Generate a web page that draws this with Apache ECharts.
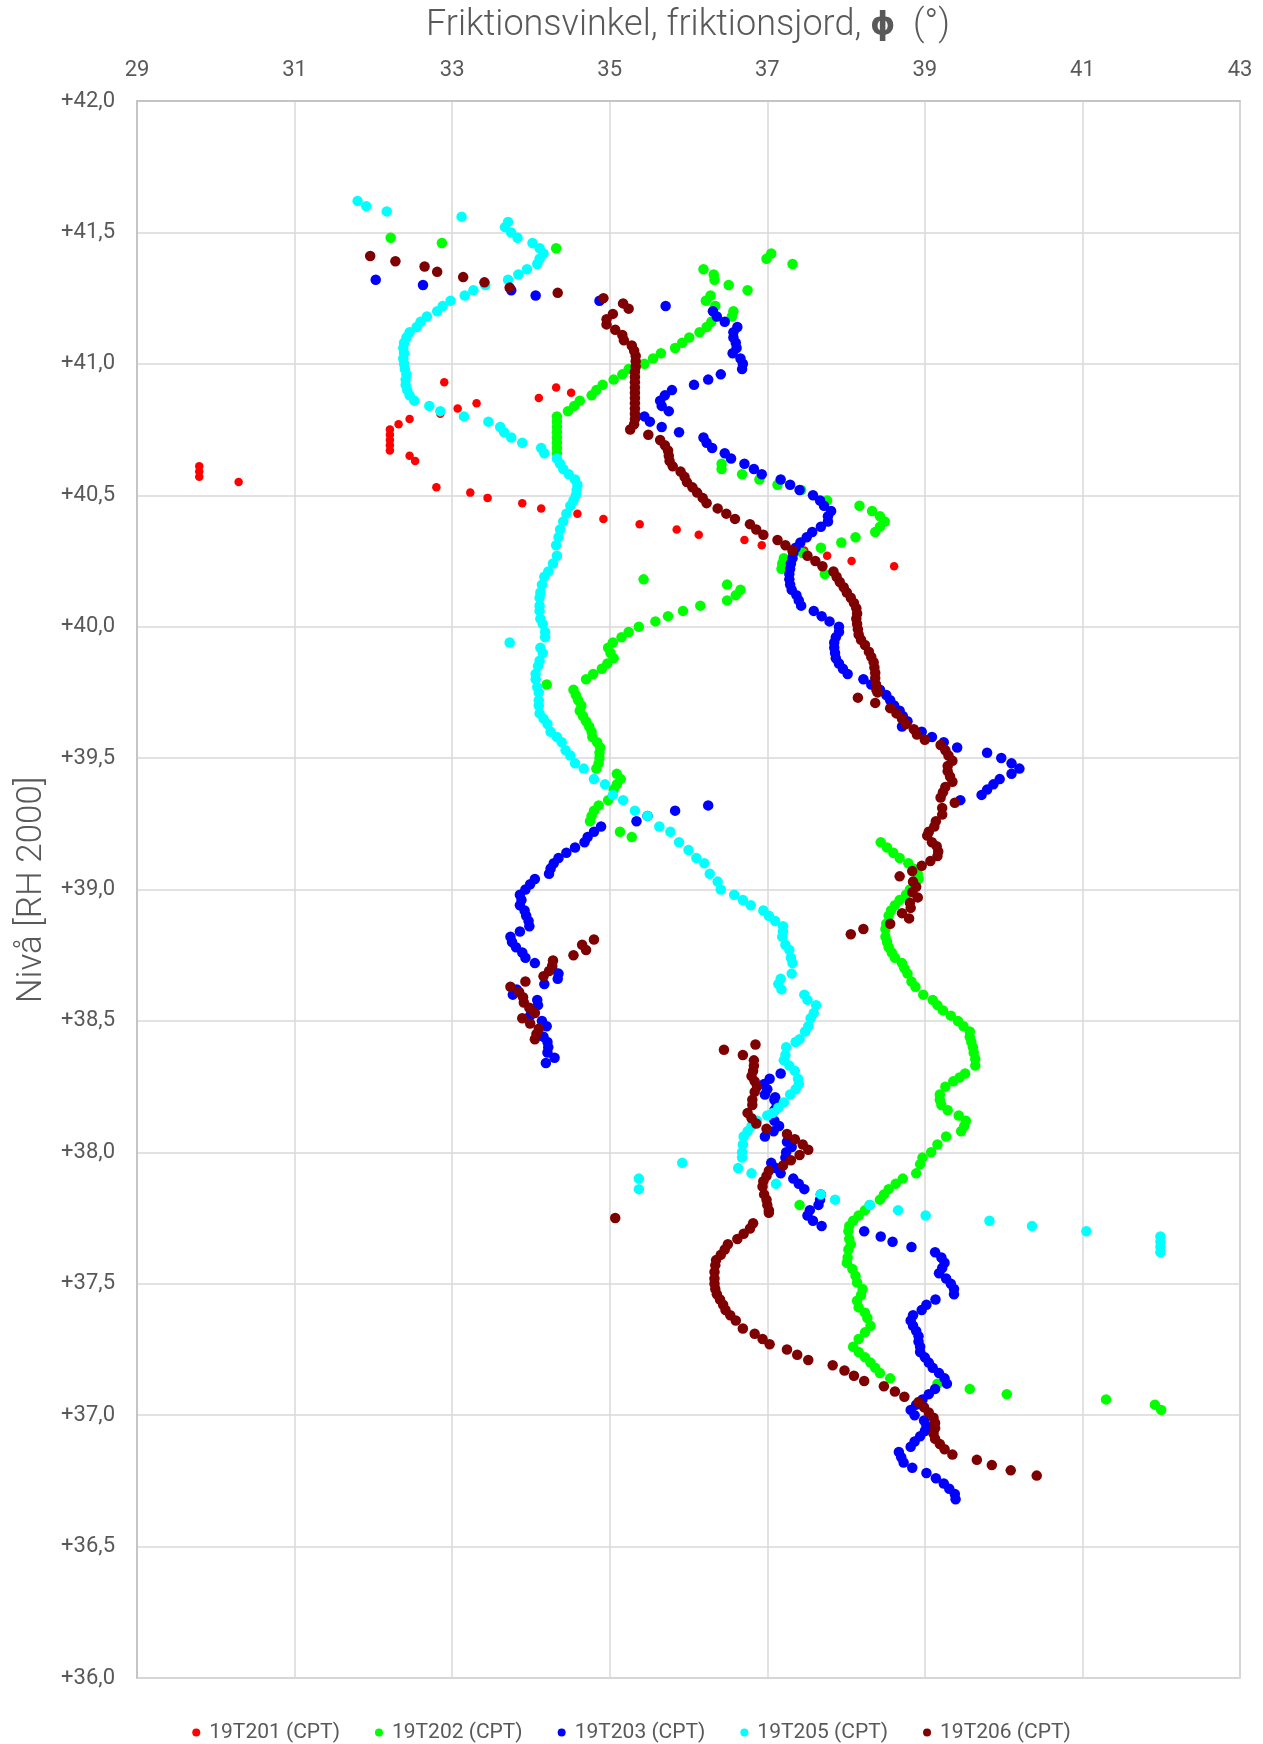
<!DOCTYPE html>
<html>
<head>
<meta charset="utf-8">
<script src="https://cdn.jsdelivr.net/npm/echarts@6/dist/echarts.min.js"></script>
<style>
html,body{margin:0;padding:0;background:#fff;}
#chart{width:1263px;height:1744px;}
</style>
</head>
<body>
<div id="chart"></div>
<script>
// ---- Data: [friction angle (°), level (m, RH 2000)] ----
const xTicks = [29, 31, 33, 35, 37, 39, 41, 43];
const yTicks = [36.0, 36.5, 37.0, 37.5, 38.0, 38.5, 39.0, 39.5, 40.0, 40.5, 41.0, 41.5, 42.0];
const seriesNames = ["19T201 (CPT)", "19T202 (CPT)", "19T203 (CPT)", "19T205 (CPT)", "19T206 (CPT)"];

const t201 = [[29.79,40.61],[29.79,40.59],[29.79,40.57],[30.29,40.55],
[32.21,40.75],[32.21,40.73],[32.21,40.71],[32.21,40.69],[32.21,40.67],
[32.32,40.77],[32.46,40.79],[32.46,40.65],[32.53,40.63],
[32.90,40.93],[32.85,40.81],[33.07,40.83],[33.31,40.85],
[32.80,40.53],[33.23,40.51],[33.45,40.49],[33.89,40.47],[34.13,40.45],
[34.10,40.87],[34.32,40.91],[34.51,40.89],
[34.59,40.43],[34.92,40.41],[35.38,40.39],[35.85,40.37],[36.13,40.35],[36.71,40.33],[36.93,40.31],[37.47,40.29],[37.76,40.27],[38.07,40.25],[38.61,40.23]];

const t202 = [[32.22,41.48],[32.87,41.46],[34.32,41.44],
[36.99,41.40],[37.05,41.42],[37.32,41.38],
[36.19,41.36],[36.32,41.34],[36.33,41.32],[36.51,41.30],[36.75,41.28],
[36.22,41.24],[36.28,41.26],[36.57,41.20],[36.55,41.18],[36.34,41.22],
[36.29,41.16],[36.23,41.14],[36.14,41.12],[36.01,41.10],[35.92,41.08],[35.83,41.06],[35.65,41.04],[35.55,41.02],[35.44,41.00],[35.24,40.98],[35.16,40.96],[35.05,40.94],[34.91,40.92],[34.83,40.90],[34.77,40.88],[34.62,40.86],[34.55,40.84],[34.47,40.82],
[34.33,40.80],[34.33,40.78],[34.33,40.76],[34.33,40.74],[34.33,40.72],[34.33,40.70],[34.33,40.68],[34.33,40.66],
[36.42,40.62],[36.42,40.60],[36.68,40.58],[36.90,40.56],[37.13,40.54],[37.43,40.52],[37.76,40.48],[38.17,40.46],[38.33,40.44],[38.43,40.42],[38.49,40.40],[38.43,40.38],[38.37,40.36],[38.12,40.34],[37.94,40.32],[37.68,40.30],[37.45,40.28],[37.21,40.26],[37.19,40.24],[37.18,40.22],[37.73,40.20],
[35.43,40.18],[36.49,40.16],[36.66,40.14],[36.60,40.12],[36.49,40.10],[36.15,40.08],[35.93,40.06],[35.74,40.04],[35.58,40.02],[35.37,40.00],[35.24,39.98],[35.15,39.96],[35.04,39.94],[34.98,39.92],[35.01,39.90],[35.05,39.88],[34.97,39.86],[34.90,39.84],[34.79,39.82],[34.70,39.80],[34.20,39.78],[34.54,39.76],[34.57,39.74],[34.60,39.72],[34.64,39.70],[34.62,39.68],[34.66,39.66],[34.70,39.64],[34.74,39.62],[34.77,39.60],[34.78,39.58],[34.84,39.56],[34.88,39.54],[34.87,39.52],[34.87,39.50],[34.86,39.48],[34.83,39.46],[35.09,39.44],[35.14,39.42],[35.09,39.40],[35.05,39.38],[34.98,39.34],[34.86,39.32],[34.80,39.30],[34.77,39.28],[34.75,39.26],[35.13,39.22],[35.28,39.20],
[38.44,39.18],[38.52,39.16],[38.60,39.14],[38.68,39.12],[38.79,39.10],[38.85,39.08],[38.91,39.06],[38.92,39.04],[38.87,39.02],[38.81,39.00],[38.76,38.98],[38.68,38.96],[38.62,38.94],[38.57,38.92],[38.54,38.90],[38.51,38.87],[38.50,38.85],[38.50,38.82],[38.52,38.80],[38.54,38.78],[38.58,38.76],[38.62,38.74],[38.71,38.72],[38.74,38.70],[38.78,38.68],[38.83,38.65],[38.88,38.63],[38.98,38.60],[39.10,38.58],[39.16,38.56],[39.23,38.54],[39.33,38.52],[39.42,38.50],[39.49,38.48],[39.57,38.46],[39.57,38.44],[39.59,38.42],[39.61,38.40],[39.62,38.38],[39.64,38.355],[39.64,38.33],[39.51,38.30],[39.44,38.285],[39.36,38.27],[39.26,38.25],[39.19,38.22],[39.19,38.20],[39.21,38.18],[39.29,38.16],[39.43,38.14],[39.52,38.12],[39.50,38.10],[39.46,38.08],[39.27,38.06],[39.16,38.03],[39.08,38.00],[38.97,37.98],[38.94,37.955],[38.89,37.92],[38.72,37.90],[38.63,37.88],[38.54,37.86],[38.48,37.84],[38.43,37.82],[38.30,37.80],[38.24,37.78],[38.16,37.76],[38.09,37.74],[38.04,37.72],[38.03,37.70],[38.04,37.67],[38.06,37.65],[38.03,37.63],[38.02,37.60],[38.01,37.58],[38.08,37.556],[38.12,37.53],[38.14,37.505],[38.21,37.48],[38.19,37.457],[38.14,37.435],[38.16,37.41],[38.24,37.39],[38.27,37.37],[38.31,37.34],[38.24,37.315],[38.16,37.29],[38.09,37.26],[38.16,37.24],[38.24,37.22],[38.31,37.20],[38.37,37.18],[38.43,37.16],[38.56,37.14],[39.16,37.12],[39.57,37.10],[40.04,37.08],[41.30,37.06],[41.92,37.04],[42.00,37.02],[37.41,37.80]];

const t203 = [[32.03,41.32],[32.63,41.30],[33.75,41.28],[34.06,41.26],[34.87,41.24],[35.71,41.22],
[36.31,41.20],[36.36,41.18],[36.46,41.16],[36.62,41.14],[36.57,41.12],[36.57,41.10],[36.60,41.08],[36.61,41.06],[36.56,41.04],[36.66,41.02],[36.69,41.00],[36.68,40.98],[36.41,40.96],[36.25,40.94],[36.07,40.92],[35.79,40.90],[35.70,40.88],[35.64,40.86],[35.66,40.84],[35.75,40.82],[35.44,40.80],[35.51,40.78],[35.66,40.76],[35.88,40.74],[36.19,40.72],[36.23,40.70],[36.30,40.68],[36.46,40.66],[36.54,40.64],[36.71,40.62],[36.83,40.60],[36.93,40.58],[37.17,40.56],[37.29,40.54],[37.41,40.52],[37.58,40.50],[37.67,40.48],[37.72,40.46],[37.81,40.44],[37.77,40.42],[37.77,40.40],[37.68,40.38],[37.57,40.36],[37.50,40.34],[37.42,40.32],[37.36,40.30],[37.33,40.28],[37.32,40.26],[37.30,40.24],[37.29,40.22],[37.28,40.20],[37.28,40.18],[37.29,40.16],[37.31,40.14],[37.37,40.12],[37.40,40.10],[37.43,40.08],[37.59,40.06],[37.69,40.04],[37.79,40.02],[37.91,40.00],[37.91,39.98],[37.87,39.96],[37.85,39.94],[37.85,39.92],[37.86,39.90],[37.87,39.88],[37.91,39.86],[37.96,39.84],[38.02,39.82],[38.22,39.80],[38.32,39.78],[38.43,39.76],[38.51,39.74],[38.56,39.72],[38.61,39.70],[38.68,39.68],[38.72,39.66],[38.78,39.64],[38.71,39.62],[38.96,39.60],[39.09,39.58],[39.24,39.56],[39.41,39.54],[39.79,39.52],[39.97,39.50],[40.10,39.48],[40.20,39.46],[40.10,39.44],[39.95,39.42],[39.87,39.40],[39.79,39.38],[39.72,39.36],[39.45,39.34],[36.25,39.32],[35.83,39.30],[35.48,39.28],[35.34,39.26],[34.89,39.24],[34.80,39.22],[34.72,39.20],[34.68,39.18],[34.56,39.16],[34.45,39.14],[34.35,39.12],[34.29,39.10],[34.25,39.08],[34.23,39.06],[34.05,39.04],[33.99,39.02],[33.93,39.00],[33.86,38.98],[33.88,38.96],[33.86,38.94],[33.92,38.92],[33.94,38.90],[33.97,38.88],[33.98,38.86],[33.86,38.84],[33.74,38.82],[33.76,38.80],[33.81,38.78],[33.89,38.76],[33.93,38.74],[34.05,38.72],[34.27,38.70],[34.35,38.68],[34.34,38.66],[34.17,38.64],[33.82,38.62],[33.77,38.60],[34.08,38.58],[34.09,38.56],[33.99,38.52],[34.14,38.50],[34.20,38.48],[34.16,38.44],[34.21,38.42],[34.22,38.40],[34.21,38.38],[34.30,38.36],[34.19,38.34],
[37.17,38.30],[37.03,38.28],[36.96,38.26],[37.00,38.24],[36.97,38.22],[37.10,38.21],[37.09,38.20],[37.12,38.18],[37.09,38.16],[37.09,38.12],[37.15,38.10],[37.08,38.08],[36.97,38.06],[37.25,38.04],[37.31,38.02],[37.24,38.00],[37.23,37.98],[37.05,37.96],[37.11,37.94],[37.17,37.92],[37.33,37.90],[37.40,37.88],[37.47,37.86],[37.68,37.84],[37.67,37.82],[37.65,37.80],[37.54,37.78],[37.51,37.76],[37.58,37.74],[37.69,37.72],[38.23,37.70],[38.44,37.68],[38.59,37.66],[38.83,37.64],[39.13,37.62],[39.21,37.60],[39.25,37.58],[39.22,37.56],[39.18,37.54],[39.27,37.52],[39.33,37.50],[39.37,37.48],[39.37,37.46],[39.135,37.44],[39.02,37.42],[38.96,37.40],[38.85,37.38],[38.82,37.36],[38.85,37.34],[38.89,37.32],[38.92,37.30],[38.92,37.28],[38.94,37.26],[38.94,37.24],[39.00,37.22],[39.05,37.20],[39.10,37.18],[39.18,37.16],[39.25,37.14],[39.28,37.12],[39.13,37.10],[39.05,37.08],[38.97,37.06],[38.89,37.04],[38.82,37.02],[38.87,37.00],[38.99,36.98],[39.02,36.96],[39.00,36.94],[38.94,36.92],[38.87,36.90],[38.82,36.88],[38.67,36.86],[38.70,36.84],[38.73,36.82],[38.84,36.80],[39.02,36.78],[39.14,36.76],[39.24,36.74],[39.31,36.72],[39.38,36.70],[39.39,36.68]];

const t205 = [[31.80,41.62],[31.91,41.60],[32.17,41.58],[33.12,41.56],[33.71,41.54],[33.67,41.52],[33.75,41.50],[33.83,41.48],[34.02,41.46],[34.11,41.44],[34.16,41.42],[34.11,41.40],[34.08,41.38],[33.95,41.36],[33.84,41.34],[33.71,41.32],[33.42,41.30],[33.27,41.28],[33.16,41.26],[32.98,41.24],[32.88,41.22],[32.81,41.20],[32.68,41.18],[32.60,41.16],[32.55,41.14],[32.46,41.12],[32.42,41.10],[32.39,41.08],[32.38,41.06],[32.39,41.04],[32.38,41.02],[32.39,41.00],[32.40,40.98],[32.42,40.96],[32.41,40.94],[32.41,40.92],[32.43,40.90],[32.46,40.88],[32.52,40.86],[32.71,40.84],[32.85,40.82],[33.15,40.80],[33.46,40.78],[33.61,40.76],[33.66,40.74],[33.75,40.72],[33.89,40.70],[34.13,40.68],[34.17,40.66],[34.33,40.64],[34.37,40.62],[34.41,40.60],[34.48,40.58],[34.56,40.56],[34.59,40.54],[34.58,40.52],[34.57,40.50],[34.54,40.48],[34.50,40.46],[34.45,40.43],[34.41,40.40],[34.37,40.37],[34.35,40.34],[34.32,40.31],[34.33,40.27],[34.28,40.24],[34.22,40.21],[34.17,40.19],[34.14,40.16],[34.12,40.13],[34.11,40.11],[34.11,40.08],[34.11,40.06],[34.12,40.03],[34.15,40.01],[34.18,39.98],[34.18,39.96],[33.73,39.94],[34.12,39.92],[34.15,39.90],[34.11,39.87],[34.09,39.85],[34.06,39.82],[34.06,39.80],[34.08,39.77],[34.10,39.75],[34.10,39.72],[34.10,39.70],[34.11,39.67],[34.16,39.65],[34.21,39.63],[34.25,39.60],[34.33,39.58],[34.39,39.56],[34.44,39.53],[34.50,39.51],[34.56,39.48],[34.67,39.46],[34.80,39.42],[34.94,39.40],[35.04,39.36],[35.17,39.34],[35.32,39.30],[35.48,39.28],[35.63,39.24],[35.77,39.22],[35.88,39.18],[36.00,39.15],[36.10,39.12],[36.20,39.10],[36.27,39.06],[36.37,39.03],[36.41,39.00],[36.58,38.98],[36.69,38.96],[36.79,38.94],[36.95,38.92],[37.02,38.90],[37.10,38.88],[37.20,38.86],[37.20,38.84],[37.19,38.82],[37.23,38.79],[37.28,38.77],[37.30,38.74],[37.32,38.72],[37.31,38.68],[37.17,38.66],[37.14,38.64],[37.18,38.62],[37.47,38.60],[37.51,38.58],[37.62,38.56],[37.59,38.53],[37.55,38.51],[37.52,38.48],[37.48,38.46],[37.41,38.43],[37.36,38.42],[37.24,38.40],[37.23,38.37],[37.21,38.35],[37.28,38.33],[37.35,38.31],[37.39,38.28],[37.40,38.26],[37.36,38.24],[37.29,38.22],[37.21,38.19],[37.14,38.17],[37.07,38.15],[37.00,38.14],[36.87,38.12],[36.80,38.10],[36.75,38.08],[36.70,38.06],[36.69,38.03],[36.68,38.00],[36.68,37.98],[36.63,37.94],[36.80,37.92],[37.11,37.88],[35.92,37.96],[35.37,37.90],[35.37,37.86],[37.68,37.84],[37.86,37.82],[38.30,37.80],[38.66,37.78],[39.01,37.76],[39.82,37.74],[40.36,37.72],[41.05,37.70],[41.99,37.68],[41.99,37.66],[41.99,37.64],[41.99,37.62]];

const t206 = [[31.96,41.41],[32.28,41.39],[32.65,41.37],[32.81,41.35],[33.14,41.33],[33.41,41.31],[33.73,41.29],[34.34,41.27],[34.92,41.25],[35.17,41.23],[35.24,41.21],[35.04,41.19],[34.96,41.17],[34.96,41.15],[35.07,41.13],[35.16,41.11],[35.18,41.09],[35.28,41.07],[35.31,41.05],[35.33,41.03],[35.33,41.01],[35.33,40.99],[35.32,40.97],[35.32,40.95],[35.32,40.93],[35.32,40.91],[35.32,40.89],[35.32,40.87],[35.32,40.85],[35.32,40.83],[35.32,40.81],[35.32,40.79],[35.31,40.77],[35.26,40.75],[35.49,40.73],[35.64,40.71],[35.70,40.69],[35.74,40.67],[35.75,40.65],[35.76,40.63],[35.80,40.61],[35.90,40.59],[35.95,40.57],[35.98,40.55],[36.05,40.53],[36.11,40.51],[36.18,40.49],[36.23,40.47],[36.37,40.45],[36.48,40.43],[36.59,40.41],[36.78,40.39],[36.86,40.37],[36.95,40.35],[37.13,40.33],[37.23,40.31],[37.32,40.29],[37.51,40.27],[37.61,40.25],[37.70,40.23],[37.84,40.21],[37.88,40.19],[37.92,40.17],[37.97,40.15],[38.01,40.13],[38.06,40.11],[38.10,40.09],[38.13,40.07],[38.14,40.05],[38.13,40.03],[38.14,40.01],[38.15,39.99],[38.16,39.97],[38.19,39.95],[38.24,39.93],[38.29,39.905],[38.32,39.885],[38.35,39.865],[38.36,39.845],[38.37,39.825],[38.37,39.805],[38.38,39.78],[38.385,39.76],[38.40,39.75],[38.15,39.73],[38.37,39.71],[38.56,39.69],[38.64,39.67],[38.71,39.65],[38.76,39.63],[38.86,39.61],[38.90,39.59],[39.00,39.57],[39.20,39.55],[39.26,39.53],[39.30,39.51],[39.35,39.49],[39.29,39.47],[39.29,39.45],[39.32,39.43],[39.35,39.41],[39.26,39.39],[39.23,39.37],[39.20,39.35],[39.38,39.33],[39.22,39.31],[39.22,39.285],[39.14,39.26],[39.12,39.24],[39.05,39.22],[39.03,39.205],[39.09,39.18],[39.15,39.165],[39.17,39.145],[39.16,39.127],[39.07,39.108],[38.96,39.09],[38.84,39.07],[38.68,39.05],[38.85,39.03],[38.89,39.01],[38.84,38.99],[38.91,38.97],[38.81,38.95],[38.82,38.93],[38.71,38.91],[38.80,38.89],[38.56,38.87],[38.22,38.85],[38.06,38.83],
[34.80,38.81],[34.65,38.79],[34.70,38.77],[34.54,38.75],[34.28,38.73],[34.27,38.71],[34.23,38.69],[34.16,38.67],[33.93,38.65],[33.74,38.63],[33.85,38.61],[33.90,38.59],[33.91,38.57],[33.98,38.55],[34.05,38.53],[33.89,38.51],[33.99,38.49],[34.10,38.47],[34.07,38.45],[34.05,38.43],
[36.45,38.39],[36.69,38.37],[36.85,38.41],[36.83,38.35],[36.83,38.33],[36.82,38.31],[36.80,38.29],[36.84,38.27],[36.87,38.25],[36.84,38.23],[36.81,38.20],[36.81,38.18],[36.75,38.15],[36.80,38.13],[36.86,38.11],[36.99,38.09],[37.25,38.07],[37.35,38.05],[37.45,38.03],[37.52,38.01],[37.41,37.99],[37.30,37.97],[37.20,37.95],[37.02,37.93],[36.99,37.91],[36.95,37.89],[36.94,37.87],[36.96,37.84],[36.99,37.82],[37.00,37.80],[37.02,37.78],[37.02,37.77],[35.07,37.75],[36.82,37.73],[36.78,37.71],[36.70,37.69],[36.62,37.67],[36.50,37.65],[36.46,37.63],[36.41,37.61],[36.35,37.59],[36.34,37.57],[36.33,37.545],[36.33,37.52],[36.33,37.50],[36.34,37.48],[36.36,37.46],[36.40,37.44],[36.44,37.42],[36.47,37.40],[36.53,37.38],[36.60,37.36],[36.69,37.33],[36.84,37.31],[36.94,37.29],[37.03,37.27],[37.25,37.25],[37.38,37.23],[37.52,37.21],[37.83,37.19],[37.98,37.17],[38.10,37.15],[38.23,37.13],[38.48,37.11],[38.62,37.09],[38.74,37.07],[38.92,37.05],[38.99,37.03],[39.05,37.01],[39.11,36.99],[39.13,36.97],[39.13,36.95],[39.11,36.93],[39.13,36.91],[39.19,36.89],[39.25,36.87],[39.35,36.85],[39.66,36.83],[39.85,36.81],[40.09,36.79],[40.42,36.77]];

const colors = ["#ff0000", "#00ff00", "#0000ff", "#00ffff", "#7f0000"];
const sizes = [8.5, 10.5, 10.5, 10.5, 10.5];
const allData = [t201, t202, t203, t205, t206];

const FONT = "Roboto, 'Liberation Sans', 'DejaVu Sans', sans-serif";
const TXT = "#595959";

const chart = echarts.init(document.getElementById('chart'), null, {renderer: 'canvas'});
chart.setOption({
  animation: false,
  backgroundColor: '#ffffff',
  title: {
    text: 'Friktionsvinkel, friktionsjord, {b|ϕ}  (°)',
    left: 688, top: 8, textAlign: 'center', padding: 0,
    textStyle: {
      fontFamily: FONT, fontSize: 36, fontWeight: 300, color: TXT,
      rich: { b: { fontFamily: "'DejaVu Sans', sans-serif", fontWeight: 'bold', fontSize: 32, color: TXT } }
    }
  },
  graphic: [{
    type: 'text', x: 32, y: 890, rotation: Math.PI / 2,
    style: { text: 'Nivå [RH 2000]', fontFamily: FONT, fontSize: 35, fontWeight: 300, fill: TXT,
      align: 'center', verticalAlign: 'middle', textAlign: 'center', textVerticalAlign: 'middle' }
  }],
  legend: {
    top: 1717, left: 'center', icon: 'circle', itemWidth: 8, itemHeight: 8, itemGap: 35,
    textStyle: { fontFamily: FONT, fontSize: 21, color: TXT, padding: [0, 0, 0, 4] },
    data: seriesNames
  },
  grid: { left: 137, right: 23, top: 101, bottom: 66, show: true, borderColor: '#c0c0c0', borderWidth: 1.5 },
  xAxis: {
    type: 'value', position: 'top', min: xTicks[0], max: xTicks[xTicks.length - 1], interval: 2,
    axisLine: { show: true, lineStyle: { color: '#bfbfbf', width: 1.5 } },
    axisTick: { show: false },
    axisLabel: { color: TXT, fontFamily: FONT, fontSize: 22, margin: 20 },
    splitLine: { show: true, lineStyle: { color: '#d9d9d9', width: 1.5 } }
  },
  yAxis: {
    type: 'value', min: yTicks[0], max: yTicks[yTicks.length - 1], interval: 0.5,
    axisLine: { show: true, lineStyle: { color: '#bfbfbf', width: 1.5 } },
    axisTick: { show: false },
    axisLabel: { color: TXT, fontFamily: FONT, fontSize: 22, margin: 22,
      formatter: v => '+' + v.toFixed(1).replace('.', ',') },
    splitLine: { show: true, lineStyle: { color: '#d9d9d9', width: 1.5 } }
  },
  series: allData.map((d, i) => ({
    name: seriesNames[i], type: 'scatter', data: d, symbol: 'circle', symbolSize: sizes[i],
    itemStyle: { color: colors[i], opacity: 1 }, z: 2 + i
  }))
});
</script>
</body>
</html>
